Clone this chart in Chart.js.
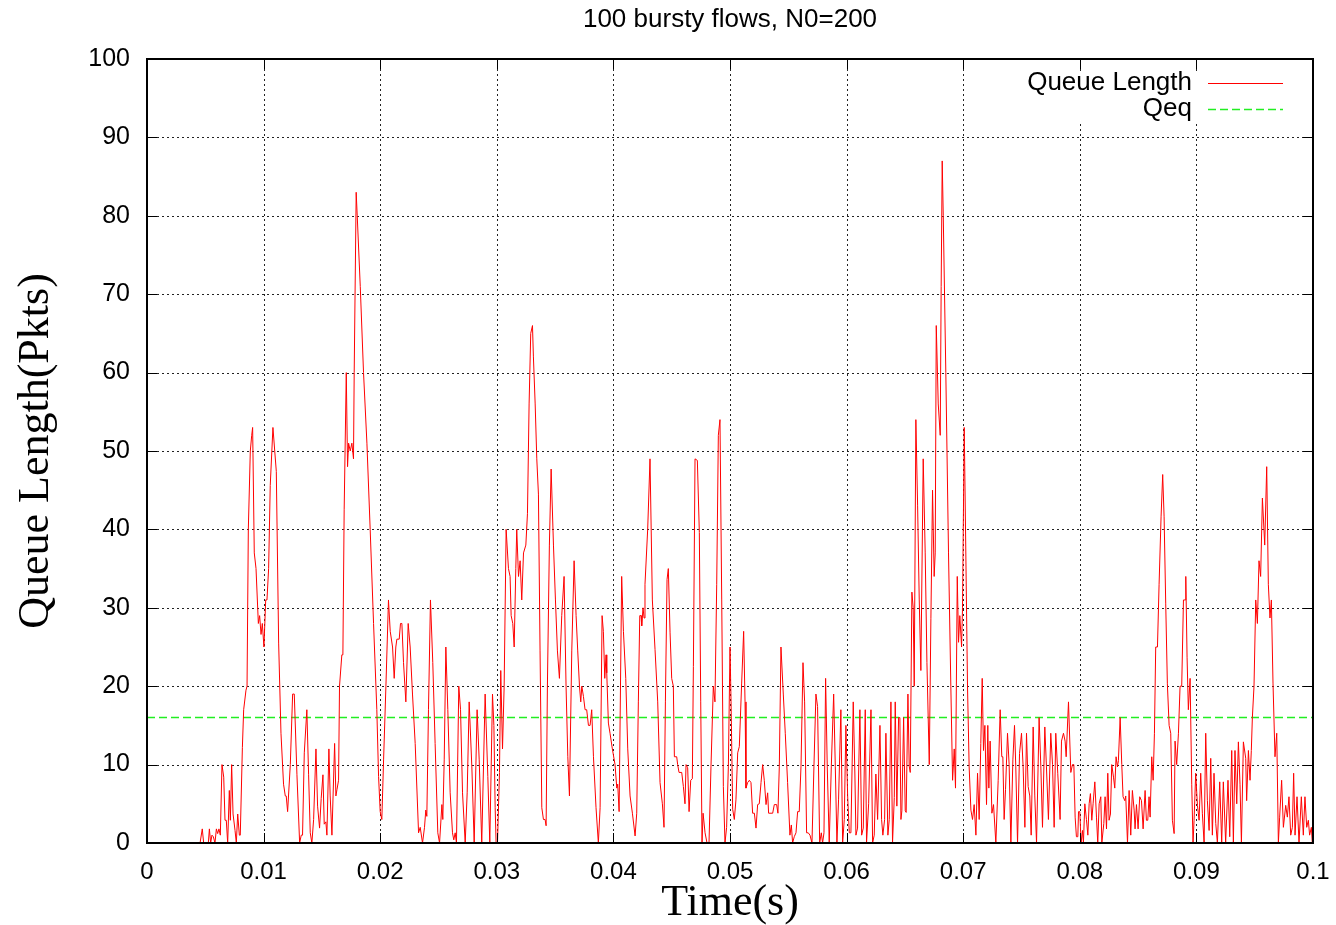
<!DOCTYPE html>
<html><head><meta charset="utf-8">
<script src="https://cdn.jsdelivr.net/npm/chart.js@4.4.1/dist/chart.umd.min.js"></script>
<style>html,body{margin:0;padding:0;background:#fff;}canvas{display:block;}</style>
</head><body>
<canvas id="c" width="1336" height="925"></canvas>
<script>
const chartTitle = "100 bursty flows, N0=200";
const xAxisTitle = "Time(s)";
const yAxisTitle = "Queue Length(Pkts)";
const seriesLabels = ["Queue Length", "Qeq"];
const xTickValues = [0, 0.01, 0.02, 0.03, 0.04, 0.05, 0.06, 0.07, 0.08, 0.09, 0.1];
const yTickValues = [0, 10, 20, 30, 40, 50, 60, 70, 80, 90, 100];
const qeqLevel = 16;

// sample times in milliseconds
const timeMs = [
0,4.55,4.74,4.86,5.26,5.35,5.46,5.57,5.69,5.83,5.95,6.06,6.17,6.29,6.43,6.58,6.69,6.8,6.92,7.06,7.15,7.26,7.38,7.55,7.66,7.78,7.92,8.0,
8.18,8.29,8.49,8.58,8.69,8.86,8.98,9.06,9.2,9.35,9.55,9.66,9.78,9.89,10.03,10.18,10.29,10.43,10.57,10.8,11.09,11.29,11.49,11.71,11.86,11.94,
12.06,12.29,12.49,12.63,12.86,13.09,13.23,13.34,13.49,13.71,13.86,14.0,14.14,14.29,14.49,14.63,14.8,14.94,15.09,15.2,15.34,15.43,15.6,15.71,
15.86,16.09,16.2,16.29,16.43,16.51,16.71,16.8,16.91,17.09,17.2,17.29,17.43,17.57,17.71,17.77,17.94,18.03,18.29,18.57,18.86,19.14,19.43,19.71,
19.86,20.0,20.14,20.29,20.49,20.71,20.86,21.06,21.2,21.34,21.43,21.63,21.74,21.86,22.0,22.2,22.4,22.57,22.77,23.0,23.29,23.43,23.63,23.8,
23.91,24.0,24.14,24.31,24.51,24.71,24.94,25.09,25.29,25.37,25.49,25.63,25.8,26.0,26.2,26.31,26.43,26.54,26.74,26.89,27.06,27.29,27.46,27.63,
27.86,28.06,28.31,28.49,28.71,29.0,29.23,29.4,29.63,29.75,29.86,29.94,30.06,30.23,30.34,30.49,30.63,30.8,31.0,31.14,31.23,31.37,31.49,31.63,
31.71,31.86,32.0,32.14,32.29,32.49,32.63,32.77,32.91,33.06,33.14,33.29,33.43,33.57,33.71,33.86,34.0,34.14,34.23,34.34,34.51,34.66,34.86,35.03,
35.2,35.37,35.57,35.77,35.94,36.09,36.23,36.43,36.63,36.8,36.94,37.09,37.2,37.29,37.43,37.57,37.71,37.86,38.0,38.14,38.29,38.51,38.71,38.86,
39.03,39.14,39.26,39.37,39.43,39.57,39.71,39.91,40.14,40.29,40.37,40.49,40.71,40.86,41.06,41.23,41.43,41.63,41.86,42.0,42.14,42.26,42.37,42.43,
42.54,42.63,42.71,42.94,43.14,43.34,43.57,43.8,44.0,44.2,44.34,44.46,44.6,44.71,44.86,45.0,45.14,45.23,45.43,45.51,45.63,45.86,46.0,46.14,
46.23,46.37,46.49,46.63,46.77,46.86,47.0,47.2,47.37,47.49,47.6,47.69,47.86,48.03,48.2,48.37,48.57,48.71,48.86,49.0,49.14,49.29,49.43,49.57,
49.71,49.86,50.0,50.09,50.23,50.37,50.51,50.66,50.8,51.0,51.17,51.29,51.37,51.51,51.66,51.8,51.94,52.09,52.23,52.37,52.51,52.66,52.8,52.94,
53.09,53.23,53.31,53.43,53.66,53.8,54.0,54.11,54.23,54.37,54.57,54.74,54.94,55.14,55.26,55.37,55.51,55.66,55.8,55.94,56.09,56.26,56.4,56.57,
56.71,56.86,57.03,57.2,57.37,57.51,57.69,57.83,57.94,58.06,58.2,58.34,58.51,58.69,58.89,59.03,59.17,59.31,59.51,59.66,59.8,59.94,60.09,60.23,
60.37,60.57,60.71,60.8,60.94,61.14,61.29,61.43,61.6,61.71,61.89,62.09,62.23,62.37,62.51,62.66,62.86,63.0,63.11,63.26,63.37,63.54,63.66,63.8,
63.94,64.09,64.17,64.31,64.46,64.57,64.66,64.74,64.89,65.03,65.11,65.26,65.37,65.46,65.6,65.71,65.8,65.94,66.09,66.23,66.37,66.57,66.74,66.89,
67.09,67.23,67.37,67.51,67.6,67.69,67.86,68.03,68.11,68.2,68.29,68.51,68.74,68.94,69.09,69.23,69.34,69.49,69.6,69.71,69.86,69.94,70.09,70.37,
70.51,70.66,70.8,70.94,71.09,71.23,71.37,71.51,71.63,71.74,71.86,72.0,72.11,72.2,72.31,72.46,72.6,72.8,73.0,73.17,73.31,73.4,73.51,73.63,
73.8,73.94,74.09,74.26,74.4,74.51,74.66,74.83,75.0,75.14,75.29,75.43,75.57,75.71,75.83,76.0,76.14,76.29,76.51,76.66,76.8,77.0,77.14,77.31,
77.51,77.66,77.8,77.94,78.11,78.31,78.43,78.6,78.74,78.83,79.03,79.23,79.37,79.49,79.6,79.71,79.83,79.89,80.0,80.11,80.23,80.31,80.43,80.57,
80.69,80.8,80.91,81.03,81.14,81.29,81.43,81.54,81.66,81.8,81.89,82.06,82.17,82.29,82.4,82.51,82.63,82.74,82.89,83.0,83.11,83.23,83.31,83.46,
83.6,83.71,83.86,83.94,84.09,84.23,84.37,84.51,84.66,84.74,84.86,85.0,85.14,85.29,85.43,85.6,85.71,85.83,85.94,86.03,86.17,86.29,86.4,86.51,
86.66,86.8,86.97,87.11,87.23,87.37,87.51,87.66,87.8,87.94,88.09,88.17,88.31,88.46,88.6,88.74,88.89,89.03,89.09,89.2,89.31,89.46,89.6,89.71,
89.8,89.94,90.09,90.23,90.37,90.51,90.66,90.8,90.94,91.09,91.23,91.37,91.51,91.66,91.8,92.0,92.17,92.31,92.51,92.71,92.86,93.03,93.17,93.31,
93.46,93.6,93.74,93.86,94.03,94.23,94.31,94.46,94.6,94.71,94.8,94.94,95.09,95.23,95.37,95.51,95.66,95.86,96.03,96.17,96.31,96.43,96.57,96.74,
96.89,97.03,97.14,97.31,97.46,97.66,97.8,97.94,98.09,98.23,98.34,98.46,98.63,98.8,99.0,99.17,99.31,99.46,99.6,99.71,99.86,99.94
];

// queue length in packets, one value per sample time
const queuePkts = [
0,0,1.8,0,0,1.8,0,1,0.8,0,1.8,1.2,1.8,1,10,8.4,2.9,2.9,0,6.7,2.9,10,3.7,1.6,0,3.7,1,1,
12.2,17,19.5,20,40,50,52,53,37,35,28,29,26.6,28,25,31,31,35,45.6,53,47.4,25.5,14,7.5,6,6,
4,10,19,19,8.7,0,1,1,11.5,17,8.7,1.3,0,3,12,4.7,1.9,5.7,8.7,2.4,2.7,1,12,6,
1,12.7,6,6.8,8,20,24,24,42.5,60,48,51,50,51,49,60,83,80,71,60,51,40,28,17,
8.5,4,3,10.6,20,31,27,25,21,25,26,26,28,28,23,18,28,25,19,12.7,1.3,2,0,2,
4.2,3.4,17,31,23,12.7,1.3,0,4.9,3,10.6,25,17,6.4,1.3,0.4,1.3,0,20,17,6.4,0,6.4,18,
9.7,0,17,10.6,0,19,8.5,0,19,15,4.5,0,0,9,22,12,20,40,35,34,29,28,25,35,
40,34,36,31,37,38,42,56,65,66,62,56,49,44.5,24.5,4.5,3,3,2.2,20,38,47.7,38,31,
24.5,21,29,34,20,11,6,24.5,36,29,24.5,20,18,20,18.7,17,17,15,15,17,11,4.5,0,4.5,
29,27,21,24,21.7,15.3,14,12,10,7,7.5,4,34,27,21,12,6,3.8,0.9,3.8,18,29,29,27.7,
30,28.7,33,40,49,31,24.7,18,7.7,5,2,18,33.6,35,26.8,21,20,11,11,10,9,9,7.2,5,
10,9.6,4,8,8.2,22.5,49,48.8,39.6,18,0,3.8,1.3,0,0,9.8,20,18,33,52,54,31,7.2,0,
2,9.8,25,18,4.3,3,5.5,11.5,12.3,20.4,27,18,7,7.7,8,7.7,3.8,3.8,1.9,4.9,5,7.7,10,8,
4.9,6.4,3.8,3.8,3.8,4.9,4.9,3.8,9.8,25,19,14,7.7,1,2.3,0,0.8,1.3,4,4,9.8,23,18,1.3,
1.3,1,0,9.8,19,17.4,0,1.3,0,1.3,21,9.8,0,9.8,19,9.8,0,5.5,17,0,3,15,6,1.3,
1.3,18,8.8,1,1.9,17,1,1.9,17,0,5,17,0,1,8.8,3,15,3,1,3,14,1,3,18,
0,5.8,18,4.7,16,16,3,4.1,16,4.1,3.9,19,9.8,9,32,30,20,54,43,31,22,49,37,23,
10,28.6,45,34,37,66,56,52,71,87,80,60,37,20,8,12,7,34,25.6,29,25,30,53,20,
9.7,4.2,3,4.9,1,8.9,3,12.7,21,11.8,15,4.9,15,7,13,3.8,4.9,0,8,17,11,11,3,6.8,
14,10,0,10.6,15,9.7,0,11.4,14,9.7,2,14,7.2,6,1,14.8,6,0,16,9.7,2,14.8,9.7,3,
14,10,2,14,8.9,3,13,14,13,11,18,9,10,10,3.3,0.8,0.8,4,4,0,1.6,0,5,3,
1,5,6.3,2.9,5,7.8,3.3,0,5,5.9,0,2.5,5.9,1.8,8.9,2.9,3.7,10,8.4,7,11,9.7,10.5,16,
10,5.9,5.4,6,0,6.7,1,6.7,4.2,1.8,4.9,1.8,5.9,5.4,1.8,6.7,2.9,2.9,5.9,3.3,11,8,14,25,
25,33,41.6,47,41.6,30.5,20.3,15,14,2.9,1.2,13,10,14,20,20,31,31,34,23.7,17,21,7.5,0,
2.9,8.9,4.8,2.9,8.9,3.8,0,14,5.4,1.6,10.8,1,8.9,2.5,0,7.8,0,7.8,0,8,0.8,11.8,0,11.8,
5,12.9,7.5,0,12.9,10.8,5.4,11.8,8,11.8,16,20,31,28,36,34,44,38,48,33,28.7,31,20.4,11,
14,0,3.3,8,2,4.8,3.3,5.9,1,2,8.9,1,5.9,0,5.9,1,5.9,2,2.9,1,2,0
];

const SANS = "'Liberation Sans', Arial, sans-serif";
const SERIF = "'Liberation Serif', 'Times New Roman', serif";

const queuePoints = timeMs.map((t, i) => ({ x: t / 1000, y: queuePkts[i] }));
const qeqPoints = [{ x: xTickValues[0], y: qeqLevel }, { x: xTickValues[xTickValues.length - 1], y: qeqLevel }];

const fmt = v => String(Number(v.toFixed(4)));

const gnuplotLook = {
  id: 'gnuplotLook',
  beforeDatasetsDraw(chart) {
    const { ctx, chartArea: a, scales: { x, y } } = chart;
    ctx.save();
    ctx.strokeStyle = '#222';
    ctx.lineWidth = 1;
    ctx.setLineDash([2, 3]);
    x.ticks.forEach(t => {
      if (t.value <= x.min || t.value >= x.max) return;
      const px = Math.round(x.getPixelForValue(t.value)) + 0.5;
      ctx.beginPath(); ctx.moveTo(px, a.top); ctx.lineTo(px, a.bottom); ctx.stroke();
    });
    y.ticks.forEach(t => {
      if (t.value <= y.min || t.value >= y.max) return;
      const py = Math.round(y.getPixelForValue(t.value)) + 0.5;
      ctx.beginPath(); ctx.moveTo(a.left, py); ctx.lineTo(a.right, py); ctx.stroke();
    });
    ctx.setLineDash([]);
    // key area masks the grid
    ctx.fillStyle = '#fff';
    ctx.fillRect(1018, 71, 274, 52);
    ctx.restore();
  },
  afterDatasetsDraw(chart) {
    const { ctx, chartArea: a, scales: { x, y } } = chart;
    ctx.save();
    ctx.strokeStyle = '#000';
    ctx.lineWidth = 1;
    const tl = 10;
    x.ticks.forEach(t => {
      const px = Math.round(x.getPixelForValue(t.value)) + 0.5;
      ctx.beginPath();
      ctx.moveTo(px, a.bottom); ctx.lineTo(px, a.bottom - tl);
      ctx.moveTo(px, a.top); ctx.lineTo(px, a.top + tl);
      ctx.stroke();
    });
    y.ticks.forEach(t => {
      const py = Math.round(y.getPixelForValue(t.value)) + 0.5;
      ctx.beginPath();
      ctx.moveTo(a.left, py); ctx.lineTo(a.left + tl, py);
      ctx.moveTo(a.right, py); ctx.lineTo(a.right - tl, py);
      ctx.stroke();
    });
    ctx.lineWidth = 2;
    ctx.strokeRect(Math.round(a.left), Math.round(a.top), Math.round(a.right - a.left), Math.round(a.bottom - a.top));

    // title
    ctx.fillStyle = '#000';
    ctx.font = '26px ' + SANS;
    ctx.textAlign = 'center';
    ctx.textBaseline = 'middle';
    ctx.fillText(chartTitle, (a.left + a.right) / 2, 20);

    // key
    ctx.font = '26px ' + SANS;
    ctx.textAlign = 'right';
    const ds = chart.data.datasets;
    const rows = [83, 109];
    ds.forEach((d, i) => {
      const ry = rows[i];
      ctx.fillStyle = '#000';
      ctx.fillText(d.label, 1192, ry);
      ctx.strokeStyle = d.borderColor;
      ctx.lineWidth = d.borderWidth;
      ctx.setLineDash(d.borderDash || []);
      ctx.beginPath(); ctx.moveTo(1208, ry + 0.5); ctx.lineTo(1283, ry + 0.5); ctx.stroke();
    });
    ctx.restore();
  }
};

new Chart(document.getElementById('c'), {
  type: 'line',
  data: {
    datasets: [
      { label: seriesLabels[0], data: queuePoints, borderColor: '#ff0000', borderWidth: 1, pointRadius: 0, tension: 0, order: 1 },
      { label: seriesLabels[1], data: qeqPoints, borderColor: '#22ee22', borderWidth: 1.4, borderDash: [8, 4], pointRadius: 0, tension: 0, order: 2 }
    ]
  },
  options: {
    responsive: false,
    animation: false,
    devicePixelRatio: 1,
    layout: { padding: { top: 59, right: 23, left: 0, bottom: 0 } },
    plugins: { legend: { display: false }, title: { display: false }, tooltip: { enabled: false } },
    scales: {
      x: {
        type: 'linear', min: 0, max: 0.1,
        afterBuildTicks: s => { s.ticks = xTickValues.map(v => ({ value: v })); },
        afterFit: s => { s.height = 82; s.paddingLeft = 0; s.paddingRight = 0; },
        grid: { display: false, drawTicks: false },
        border: { display: false },
        ticks: { color: '#000', font: { family: SANS, size: 24 }, padding: 15, maxRotation: 0, autoSkip: false, callback: v => fmt(v) },
        title: { display: true, text: xAxisTitle, color: '#000', font: { family: SERIF, size: 44, lineHeight: 1 }, padding: { top: -1, bottom: 0 } }
      },
      y: {
        type: 'linear', min: 0, max: 100,
        afterBuildTicks: s => { s.ticks = yTickValues.map(v => ({ value: v })); },
        afterFit: s => { s.width = 147; s.paddingTop = 0; s.paddingBottom = 0; },
        grid: { display: false, drawTicks: false },
        border: { display: false },
        ticks: { color: '#000', font: { family: SANS, size: 25 }, padding: 17, autoSkip: false, callback: v => fmt(v) },
        title: { display: true, text: yAxisTitle, color: '#000', font: { family: SERIF, size: 44, lineHeight: 1 }, padding: { top: 14, bottom: 0 } }
      }
    }
  },
  plugins: [gnuplotLook]
});
</script>
</body></html>
